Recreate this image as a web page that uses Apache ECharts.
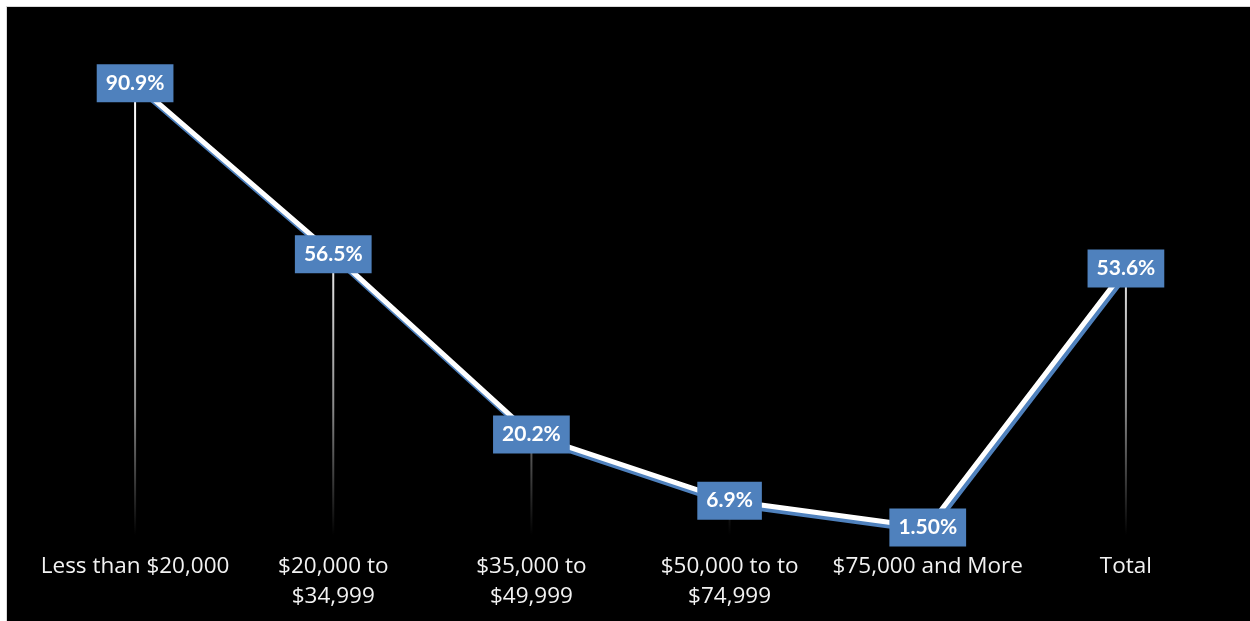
<!DOCTYPE html>
<html>
<head>
<meta charset="utf-8">
<script src="https://cdn.jsdelivr.net/npm/echarts@6/dist/echarts.min.js"></script>
<style>
  html, body { margin: 0; padding: 0; background: #fff; overflow: hidden; }
  #chart {
    position: absolute;
    left: 6px;
    top: 6px;
    width: 1250px;
    height: 621px;
    border: 1px solid #d9d9d9;
    background: #000;
  }
</style>
</head>
<body>
<div id="chart"></div>
<script>
// income groups
const categories = [
  "Less than $20,000",
  "$20,000 to\n$34,999",
  "$35,000 to\n$49,999",
  "$50,000 to to\n$74,999",
  "$75,000 and More",
  "Total",
];
const values = [90.9, 56.5, 20.2, 6.9, 1.5, 53.6];
const valueLabels = ["90.9%", "56.5%", "20.2%", "6.9%", "1.50%", "53.6%"];

const chart = echarts.init(document.getElementById("chart"));

const option = {
  backgroundColor: "#000",
  animation: false,
  grid: {
    left: 29,
    top: 31,
    width: 1189,
    height: 497,
    outerBoundsMode: "none",
  },
  xAxis: {
    type: "category",
    data: categories,
    axisLine: { show: false },
    axisTick: { show: false },
    axisLabel: {
      color: "#f2f2f2",
      fontFamily: "Open Sans",
      fontSize: 22.5,
      lineHeight: 30,
      margin: 17,
      interval: 0,
    },
  },
  yAxis: {
    type: "value",
    min: 0,
    max: 100,
    show: false,
    splitLine: { show: false },
  },
  series: [
    {
      // drop lines, gradient fades toward the baseline
      type: "bar",
      data: values,
      barWidth: 2,
      silent: true,
      itemStyle: {
        color: new echarts.graphic.LinearGradient(
          0, 70, 0, 528,
          [
            { offset: 0, color: "#ffffff" },
            { offset: 0.42, color: "#e6e6e6" },
            { offset: 0.72, color: "#8a8a8a" },
            { offset: 1, color: "#000000" },
          ],
          true
        ),
      },
      z: 1,
    },
    {
      type: "line",
      data: values,
      symbol: "circle",
      symbolSize: 4,
      itemStyle: { color: "#fff" },
      lineStyle: {
        color: "#fff",
        width: 5,
        shadowColor: "#4f81bd",
        shadowBlur: 0,
        shadowOffsetX: 2,
        shadowOffsetY: 4,
      },
      label: {
        show: true,
        position: "inside",
        formatter: (p) => valueLabels[p.dataIndex],
        color: "#fff",
        fontFamily: "Lato",
        fontWeight: "bold",
        fontSize: 21,
        backgroundColor: "#4f81bd",
        padding: [9, 9, 8, 9],
      },
      z: 3,
    },
  ],
};

chart.setOption(option);
</script>
</body>
</html>
